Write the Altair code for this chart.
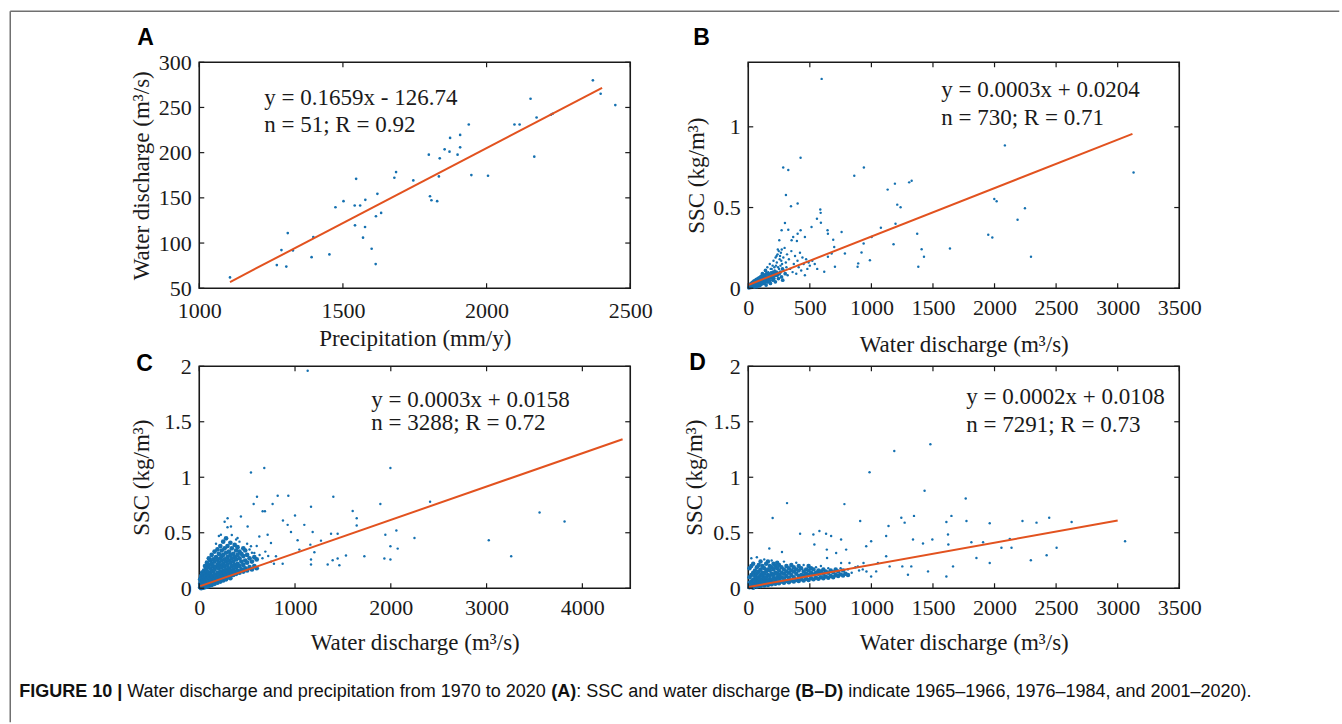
import altair as alt
import pandas as pd

SERIF = "Liberation Serif"
SANS = "Liberation Sans"
INK = "#1a1a1a"
PT = "#1470b0"
LN = "#e2521f"
FRAME = "#707070"

# ---------------- Panel A: precipitation vs water discharge ----------------
a_x = [1107, 1270, 1303, 1286, 1308, 1326, 1397, 1391, 1453, 1474, 1502, 1546, 1541,
       1560, 1578, 1542, 1577, 1570, 1600, 1614, 1615, 1620, 1633, 1679, 1685, 1745,
       1799, 1803, 1808, 1828, 1834, 1837, 1854, 1871, 1873, 1899, 1908, 1908, 1938,
       1947, 2005, 2097, 2115, 2153, 2166, 2174, 2224, 2370, 2397, 2448, 2230]
a_y = [62, 75.6, 74, 92.2, 111, 91.8, 106.7, 84.4, 87.4, 139.6, 146.3, 171, 141.5,
       141.5, 147.8, 119.6, 117.8, 106, 93.7, 76.7, 129.6, 154.4, 133.3, 172.2, 178.5, 169.3,
       197.8, 151.8, 147.4, 146.3, 173.7, 193.7, 203.7, 201.1, 216.3, 197.8, 219.6, 205.9, 231.1,
       175.2, 174.4, 231.1, 231.1, 259.6, 195.6, 238.9, 241.9, 280, 265.2, 252.6, 243]
a_fit_x = [1107, 2402]
a_fit_y = [56.9, 271.7]

# ---------------- Panel B ----------------
b_sparse = [
    (596, 1.297), (284, 0.748), (325, 0.732), (425, 0.809), (306, 0.578), (401, 0.525),
    (347, 0.508), (585, 0.488), (588, 0.467), (558, 0.43), (590, 0.406), (514, 0.379),
    (298, 0.404), (325, 0.363), (271, 0.359), (365, 0.318), (352, 0.297), (401, 0.338),
    (425, 0.359), (460, 0.318), (395, 0.293), (252, 0.297), (644, 0.359), (647, 0.338),
    (690, 0.301), (698, 0.256), (677, 0.215), (647, 0.195), (617, 0.102), (758, 0.348),
    (785, 0.215), (704, 0.133), (861, 0.697), (939, 0.748), (1002, 0.318), (937, 0.277),
    (920, 0.221), (893, 0.154), (888, 0.133), (988, 0.174), (1077, 0.375), (1132, 0.611),
    (1191, 0.648), (1210, 0.518), (1237, 0.502), (1196, 0.4), (1180, 0.273), (1307, 0.656),
    (1327, 0.666), (1372, 0.338), (1408, 0.242), (1427, 0.195), (1381, 0.133), (1638, 0.246),
    (1949, 0.332), (1982, 0.314), (1998, 0.553), (2017, 0.539), (2084, 0.885), (2187, 0.424),
    (2247, 0.496), (2296, 0.195), (3129, 0.717),
    (155, 0.13), (175, 0.15), (185, 0.1), (190, 0.12), (205, 0.17), (215, 0.11),
    (225, 0.14), (230, 0.2), (240, 0.24), (250, 0.12), (255, 0.18), (265, 0.22), (275, 0.15),
    (285, 0.19), (290, 0.11), (295, 0.25), (305, 0.16), (310, 0.13), (315, 0.21), (320, 0.08),
    (330, 0.18), (340, 0.12), (350, 0.23), (360, 0.1), (370, 0.15), (380, 0.2), (390, 0.09),
    (400, 0.17), (410, 0.13), (420, 0.22), (430, 0.11), (440, 0.19), (450, 0.15), (460, 0.08),
    (470, 0.18), (480, 0.12), (490, 0.16), (500, 0.14), (520, 0.17), (540, 0.15), (560, 0.12),
    (222, 0.19), (238, 0.21), (248, 0.23), (258, 0.2), (272, 0.24), (198, 0.14), (212, 0.13),
    (232, 0.16), (268, 0.17), (262, 0.14), (242, 0.13), (182, 0.12), (162, 0.1),
]
b_dense = [
    (10, 0.01), (15, 0.02), (20, 0.005), (25, 0.03), (30, 0.015), (35, 0.01), (40, 0.04),
    (45, 0.02), (50, 0.008), (55, 0.03), (60, 0.05), (65, 0.02), (70, 0.01), (75, 0.04),
    (80, 0.06), (85, 0.03), (90, 0.015), (95, 0.05), (100, 0.07), (105, 0.025), (110, 0.04),
    (115, 0.09), (120, 0.06), (125, 0.03), (130, 0.08), (135, 0.05), (140, 0.11), (145, 0.02),
    (150, 0.07), (160, 0.04), (165, 0.09), (170, 0.06), (180, 0.03), (195, 0.07), (200, 0.05),
    (210, 0.09), (220, 0.04), (235, 0.08), (245, 0.06), (260, 0.1), (270, 0.07), (280, 0.05),
    (300, 0.09),
    (5, 0.003), (12, 0.012), (18, 0.025), (22, 0.008), (28, 0.02), (33, 0.035), (38, 0.018),
    (42, 0.028), (48, 0.045), (52, 0.012), (58, 0.022), (62, 0.038), (68, 0.055), (72, 0.028),
    (78, 0.018), (82, 0.045), (88, 0.065), (92, 0.035), (98, 0.02), (102, 0.05), (108, 0.075),
    (112, 0.03), (118, 0.045), (122, 0.085), (128, 0.06), (132, 0.035), (138, 0.07), (142, 0.05),
    (148, 0.09), (152, 0.04), (158, 0.06), (168, 0.075), (172, 0.045), (178, 0.08),
    (188, 0.065), (192, 0.09), (202, 0.1), (208, 0.06), (218, 0.08), (228, 0.1), (252, 0.09),
    (278, 0.12),
]
b_fit_x = [5, 3120]
b_fit_y = [0.022, 0.956]

# ---------------- Panel C ----------------
c_sparse = [
    (1132, 1.96), (540, 1.042), (679, 1.083), (1996, 1.083), (603, 0.824), (819, 0.833),
    (930, 0.833), (1400, 0.824), (1891, 0.759), (1167, 0.735), (568, 0.759), (766, 0.759),
    (662, 0.693), (686, 0.693), (1602, 0.696), (2410, 0.78), (3553, 0.682), (3814, 0.601),
    (3023, 0.432), (3257, 0.289), (2247, 0.452), (2058, 0.521), (1943, 0.482), (1996, 0.378),
    (2072, 0.357), (1933, 0.268), (1996, 0.259), (1724, 0.289), (1532, 0.295), (1445, 0.268),
    (1463, 0.208), (1393, 0.253), (1341, 0.214), (1445, 0.491), (1376, 0.491), (1644, 0.631),
    (1644, 0.565), (1271, 0.429), (1184, 0.506), (1160, 0.393), (1097, 0.571), (1000, 0.655),
    (874, 0.61), (923, 0.571), (958, 0.506), (1027, 0.432), (1045, 0.348), (1167, 0.259),
    (1167, 0.214), (1202, 0.324), (801, 0.289), (871, 0.22), (749, 0.408), (714, 0.482),
    (627, 0.467), (505, 0.557), (435, 0.646), (540, 0.378), (575, 0.318), (331, 0.557),
    (296, 0.631), (226, 0.482), (400, 0.452), (205, 0.47), (265, 0.6), (295, 0.55),
    (340, 0.48), (385, 0.44), (420, 0.42), (500, 0.4), (600, 0.38), (690, 0.33), (175, 0.4),
    (525, 0.35), (550, 0.32), (630, 0.3), (720, 0.29), (750, 0.24), (780, 0.22), (660, 0.27),
]
c_rows = {
    10: [0.01, 0.04, 0.08], 20: [0.02, 0.06, 0.11, 0.0], 30: [0.005, 0.05, 0.09, 0.14],
    40: [0.03, 0.07, 0.12, 0.005], 50: [0.015, 0.06, 0.1, 0.16], 60: [0.04, 0.08, 0.13, 0.2, 0.01],
    70: [0.02, 0.07, 0.11, 0.17], 80: [0.05, 0.09, 0.15, 0.23, 0.015], 90: [0.03, 0.08, 0.12, 0.19],
    100: [0.06, 0.1, 0.14, 0.21, 0.27, 0.02], 115: [0.04, 0.09, 0.13, 0.18, 0.25],
    130: [0.07, 0.11, 0.16, 0.22, 0.3, 0.03], 145: [0.05, 0.1, 0.15, 0.2, 0.26],
    160: [0.08, 0.12, 0.17, 0.24, 0.33, 0.04], 175: [0.06, 0.11, 0.19, 0.28],
    190: [0.09, 0.14, 0.21, 0.26, 0.35, 0.05], 205: [0.07, 0.12, 0.18, 0.23, 0.31],
    220: [0.1, 0.15, 0.2, 0.27, 0.38, 0.06], 235: [0.08, 0.13, 0.19, 0.25, 0.34, 0.29],
    250: [0.11, 0.16, 0.22, 0.3, 0.42, 0.07], 265: [0.09, 0.14, 0.2, 0.26, 0.36],
    280: [0.12, 0.17, 0.24, 0.32, 0.45, 0.08], 295: [0.1, 0.15, 0.21, 0.28, 0.38],
    310: [0.13, 0.18, 0.25, 0.33], 325: [0.11, 0.16, 0.23, 0.3, 0.41, 0.09],
    340: [0.14, 0.2, 0.27, 0.36], 355: [0.12, 0.17, 0.24, 0.31],
    370: [0.15, 0.21, 0.28, 0.39], 385: [0.13, 0.19, 0.26, 0.34],
    400: [0.16, 0.22, 0.3, 0.37], 420: [0.14, 0.2, 0.27, 0.33],
    440: [0.17, 0.24, 0.31], 460: [0.15, 0.21, 0.29, 0.36], 480: [0.18, 0.25, 0.34],
    500: [0.16, 0.23, 0.3], 525: [0.19, 0.27], 550: [0.17, 0.24],
    575: [0.2, 0.28], 600: [0.18, 0.26],
}
c_fit_x = [10, 4420]
c_fit_y = [0.019, 1.342]

# ---------------- Panel D ----------------
d_sparse = [
    (1186, 1.236), (1479, 1.297), (985, 1.045), (1432, 0.879), (1766, 0.809), (315, 0.767),
    (781, 0.758), (198, 0.633), (171, 0.358), (274, 0.327), (421, 0.491), (529, 0.485),
    (578, 0.515), (632, 0.491), (673, 0.47), (754, 0.439), (537, 0.394), (638, 0.348),
    (795, 0.348), (909, 0.606), (998, 0.424), (958, 0.379), (1139, 0.561), (1120, 0.47),
    (1243, 0.636), (1270, 0.591), (1346, 0.652), (1338, 0.439), (1419, 0.403), (1495, 0.439),
    (1609, 0.597), (1650, 0.652), (1772, 0.606), (1622, 0.485), (1625, 0.394), (1812, 0.415),
    (1907, 0.415), (1961, 0.585), (2056, 0.364), (2124, 0.445), (2138, 0.364), (2227, 0.606),
    (2341, 0.591), (2444, 0.636), (2504, 0.364), (2626, 0.597), (2295, 0.252), (2423, 0.297),
    (3060, 0.424), (1961, 0.227), (1853, 0.273), (1663, 0.197), (1609, 0.106), (1460, 0.152),
    (1324, 0.197), (1251, 0.197), (1297, 0.121), (1148, 0.197), (1120, 0.288), (1053, 0.227),
    (1039, 0.152), (936, 0.227), (998, 0.106), (890, 0.197), (822, 0.227), (754, 0.227),
    (714, 0.318), (640, 0.273), (25, 0.27), (70, 0.28), (130, 0.26), (190, 0.25),
    (290, 0.24), (390, 0.23), (450, 0.21), (550, 0.19), (590, 0.2), (650, 0.18), (750, 0.18),
    (810, 0.17), (840, 0.14), (870, 0.19), (900, 0.16), (930, 0.17), (960, 0.15),
]
d_rows = {
    10: [0.01, 0.05, 0.1, 0.18], 25: [0.02, 0.06, 0.12, 0.2], 40: [0.005, 0.04, 0.08, 0.14, 0.22],
    55: [0.03, 0.07, 0.11, 0.16], 70: [0.015, 0.05, 0.09, 0.13, 0.19],
    85: [0.03, 0.06, 0.1, 0.15, 0.21], 100: [0.02, 0.05, 0.08, 0.12, 0.17, 0.24],
    115: [0.035, 0.07, 0.11, 0.14, 0.2], 130: [0.025, 0.06, 0.09, 0.13, 0.18],
    145: [0.04, 0.075, 0.1, 0.15, 0.22], 160: [0.03, 0.065, 0.12, 0.17, 0.24],
    175: [0.045, 0.08, 0.11, 0.16, 0.2], 190: [0.035, 0.07, 0.13, 0.19],
    205: [0.05, 0.09, 0.12, 0.17, 0.22], 220: [0.04, 0.08, 0.14, 0.2],
    235: [0.055, 0.1, 0.13, 0.18, 0.23], 250: [0.045, 0.085, 0.12, 0.16, 0.21],
    270: [0.06, 0.1, 0.14, 0.19], 290: [0.05, 0.09, 0.13, 0.17], 310: [0.065, 0.11, 0.15, 0.2],
    330: [0.055, 0.095, 0.14, 0.18], 350: [0.07, 0.12, 0.16, 0.21], 370: [0.06, 0.1, 0.15, 0.19],
    390: [0.075, 0.13, 0.17], 410: [0.065, 0.11, 0.16, 0.2], 430: [0.08, 0.12, 0.18],
    450: [0.07, 0.115, 0.15], 470: [0.085, 0.13, 0.17], 490: [0.075, 0.12, 0.16, 0.2],
    510: [0.09, 0.14, 0.18], 530: [0.08, 0.125, 0.17], 550: [0.095, 0.14],
    570: [0.085, 0.13, 0.16], 590: [0.1, 0.15], 610: [0.09, 0.13, 0.17], 630: [0.105, 0.15],
    650: [0.095, 0.14], 670: [0.11, 0.16], 690: [0.1, 0.145], 710: [0.12, 0.17],
    730: [0.11, 0.15], 750: [0.125], 770: [0.115, 0.16], 790: [0.13], 810: [0.12],
}
d_fit_x = [5, 3000]
d_fit_y = [0.012, 0.611]

# caption pieces: (text, weight)
caption = [
    ("FIGURE 10 |", "bold"),
    ("Water discharge and precipitation from 1970 to 2020", "normal"),
    ("(A)", "bold"),
    (": SSC and water discharge", "normal"),
    ("(B–D)", "bold"),
    ("indicate 1965–1966, 1976–1984, and 2001–2020).", "normal"),
]
caption_offsets = [0, 108, 532, 557, 776, 829]


def rows_to_pairs(rows):
    out = []
    for k, vals in rows.items():
        for v in vals:
            out.append((k, v))
    return out


c_dense_pairs = rows_to_pairs(c_rows)
d_dense_pairs = rows_to_pairs(d_rows)
a_pairs = list(zip(a_x, a_y))


def text(s, x, y, font, size, weight="normal", color=INK):
    return alt.Chart(pd.DataFrame({"t": [s]})).mark_text(
        align="left", baseline="middle", font=font, fontSize=size, fontWeight=weight, color=color
    ).encode(text="t:N", x=alt.value(x), y=alt.value(y))


def panel(sparse, dense, fx, fy, xdom, ydom, xticks, yticks, xtitle, ytitle, w, h, xtp, ytp,
          eq, stat, eqx, eqy1, eqy2, letter, lx, ly, s_size, d_size, extras=(), xlp=9):
    xs = alt.Scale(domain=xdom, nice=False, zero=False)
    ys = alt.Scale(domain=ydom, nice=False, zero=False)
    common = dict(format="~r", ticks=False, domain=False, grid=False,
                  labelFont=SERIF, labelFontSize=22, labelColor=INK,
                  labelFlush=False, labelOverlap=False,
                  titleFont=SERIF, titleFontSize=23, titleFontWeight="normal", titleColor=INK)
    xa = alt.Axis(values=xticks, title=xtitle, labelPadding=xlp, titlePadding=xtp, **common)
    ya = alt.Axis(values=yticks, title=ytitle, labelPadding=8, titlePadding=ytp, **common)
    X = lambda: alt.X("x:Q", scale=xs, axis=xa)
    Y = lambda: alt.Y("y:Q", scale=ys, axis=ya)

    def pts(pairs, size):
        df = pd.DataFrame({"x": [p[0] for p in pairs], "y": [p[1] for p in pairs]})
        return alt.Chart(df).mark_circle(size=size, color=PT, opacity=1).encode(x=X(), y=Y())

    layers = [pts(sparse, s_size)]
    if dense:
        layers.append(pts(dense, d_size))
    fit = alt.Chart(pd.DataFrame({"x": fx, "y": fy})).mark_line(
        color=LN, strokeWidth=2
    ).encode(x=X(), y=Y())
    xt = pd.DataFrame({"x": xticks})
    yt = pd.DataFrame({"y": yticks})
    tk = dict(color=INK, strokeWidth=1.2)
    t_top = alt.Chart(xt).mark_rule(**tk).encode(x=X(), y=alt.value(0), y2=alt.value(5))
    t_bot = alt.Chart(xt).mark_rule(**tk).encode(x=X(), y=alt.value(h), y2=alt.value(h - 5))
    t_lft = alt.Chart(yt).mark_rule(**tk).encode(y=Y(), x=alt.value(0), x2=alt.value(5))
    t_rgt = alt.Chart(yt).mark_rule(**tk).encode(y=Y(), x=alt.value(w), x2=alt.value(w - 5))
    layers += [fit, t_top, t_bot, t_lft, t_rgt,
               text(eq, eqx, eqy1, SERIF, 23), text(stat, eqx, eqy2, SERIF, 23),
               text(letter, lx, ly, SANS, 23, "bold", "#000")]
    layers.extend(extras)
    return alt.layer(*layers).properties(width=w, height=h)


frame = [
    alt.Chart(pd.DataFrame({"k": [0]})).mark_rule(color=FRAME, strokeWidth=1.5).encode(
        x=alt.value(-189), x2=alt.value(1140), y=alt.value(-51)),
    alt.Chart(pd.DataFrame({"k": [0]})).mark_rule(color=FRAME, strokeWidth=1.5).encode(
        x=alt.value(-189), y=alt.value(-51), y2=alt.value(660)),
]

cap_layers = [
    text(s, -180 + off, 326, SANS, 18, wgt, "#111")
    for (s, wgt), off in zip(caption, caption_offsets)
]

pA = panel(a_pairs, [], a_fit_x, a_fit_y, [1000, 2500], [50, 300],
           [1000, 1500, 2000, 2500], [50, 100, 150, 200, 250, 300],
           "Precipitation (mm/y)", "Water discharge (m³/s)", 431, 226, 6, 5,
           "y = 0.1659x - 126.74", "n = 51; R = 0.92", 65, 36, 63, "A", -62, -24, 7, 7, frame, xlp=12)
pB = panel(b_sparse, b_dense, b_fit_x, b_fit_y, [0, 3500], [0, 1.4],
           [0, 500, 1000, 1500, 2000, 2500, 3000, 3500], [0, 0.5, 1],
           "Water discharge (m³/s)", "SSC (kg/m³)", 431, 226, 15, 4,
           "y = 0.0003x + 0.0204", "n = 730; R = 0.71", 193, 28, 56, "B", -55, -24, 6, 14)
pC = panel(c_sparse, c_dense_pairs, c_fit_x, c_fit_y, [0, 4500], [0, 2],
           [0, 1000, 2000, 3000, 4000], [0, 0.5, 1, 1.5, 2],
           "Water discharge (m³/s)", "SSC (kg/m³)", 431, 222, 13, 10,
           "y = 0.0003x + 0.0158", "n = 3288; R = 0.72", 172, 34, 57, "C", -63, -2, 6, 22, cap_layers)
pD = panel(d_sparse, d_dense_pairs, d_fit_x, d_fit_y, [0, 3500], [0, 2],
           [0, 500, 1000, 1500, 2000, 2500, 3000, 3500], [0, 0.5, 1, 1.5, 2],
           "Water discharge (m³/s)", "SSC (kg/m³)", 431, 222, 13, 6,
           "y = 0.0002x + 0.0108", "n = 7291; R = 0.73", 218, 31, 59, "D", -59, -3, 6, 20)

chart = alt.concat(
    pA, pB, pC, pD, columns=2,
    spacing={"row": 78, "column": 118}, bounds="flush",
).properties(
    padding={"left": 8.25, "top": 9.25, "right": 0, "bottom": 0},
    background="white",
).configure_view(stroke=INK, strokeWidth=1.6)

chart.save("out.html", embed_options={"renderer": "svg", "actions": False})
